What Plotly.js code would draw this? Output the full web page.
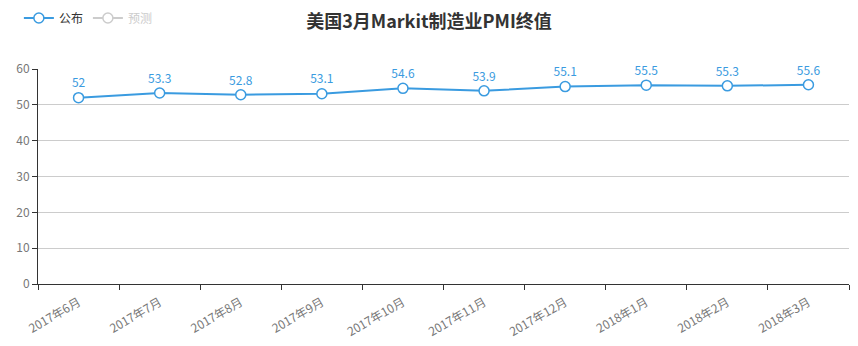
<!DOCTYPE html>
<html><head><meta charset="utf-8">
<script src="https://cdn.plot.ly/plotly-3.0.1.min.js"></script>
<style>html,body{margin:0;padding:0;background:#fff}#chart{width:858px;height:346px}</style>
</head><body><div id="chart"></div>
<script>
const categories = ['2017年6月','2017年7月','2017年8月','2017年9月','2017年10月','2017年11月','2017年12月','2018年1月','2018年2月','2018年3月'];
const published = [52, 53.3, 52.8, 53.1, 54.6, 53.9, 55.1, 55.5, 55.3, 55.6];
const forecast = [null, null, null, null, null, null, null, null, null, null];
const yTicks = [0, 10, 20, 30, 40, 50, 60];
const font = '"Noto Sans CJK SC", "Microsoft YaHei", sans-serif';
const blue = '#3a9be0';

const traces = [
  {
    x: categories, y: published, name: '公布', type: 'scatter', mode: 'lines+markers+text',
    line: {color: blue, width: 2},
    marker: {size: 10, color: '#fff', line: {color: blue, width: 1.5}},
    text: published.map(String), textposition: 'top center',
    textfont: {color: blue, size: 12, family: font},
    cliponaxis: false, hoverinfo: 'x+y'
  },
  {
    x: categories, y: forecast, name: '<span style="color:#cccccc">预测</span>', type: 'scatter', mode: 'lines+markers',
    line: {color: '#cccccc', width: 2},
    marker: {size: 10, color: '#fff', line: {color: '#cccccc', width: 1.5}}
  }
];

const layout = {
  width: 858, height: 346,
  margin: {l: 38, r: 9, t: 69, b: 62},
  paper_bgcolor: '#fff', plot_bgcolor: '#fff',
  font: {family: font, color: '#333', size: 12},
  title: {text: '<b>美国3月Markit制造业PMI终值</b>', x: 0.5, xanchor: 'center', y: 0.937, yanchor: 'middle', yref: 'container',
          font: {size: 18, color: '#333', family: font}},
  showlegend: true,
  legend: {orientation: 'h', xref: 'container', yref: 'container', x: 0.022, y: 0.99, xanchor: 'left', yanchor: 'top',
           font: {size: 12, color: '#333', family: font}, itemwidth: 30, tracegroupgap: 0, bgcolor: 'rgba(0,0,0,0)'},
  xaxis: {
    type: 'category', range: [-0.5, 9.5], showgrid: false, zeroline: false,
    showline: true, linecolor: '#333', linewidth: 1,
    ticks: 'outside', tickson: 'boundaries', ticklen: 5, tickcolor: '#333',
    ticklabelstandoff: 6,
    tickangle: -30, tickfont: {size: 12, color: '#777', family: font}, fixedrange: true
  },
  yaxis: {
    range: [0, 60], tickvals: yTicks, ticktext: yTicks.map(String),
    showgrid: true, gridcolor: '#cccccc', gridwidth: 1, zeroline: false,
    showline: true, linecolor: '#333', linewidth: 1,
    ticks: 'outside', ticklen: 5, tickcolor: '#333',
    tickfont: {size: 12, color: '#777', family: font}, fixedrange: true
  }
};

Plotly.newPlot('chart', traces, layout, {displayModeBar: false, staticPlot: true});
</script></body></html>
